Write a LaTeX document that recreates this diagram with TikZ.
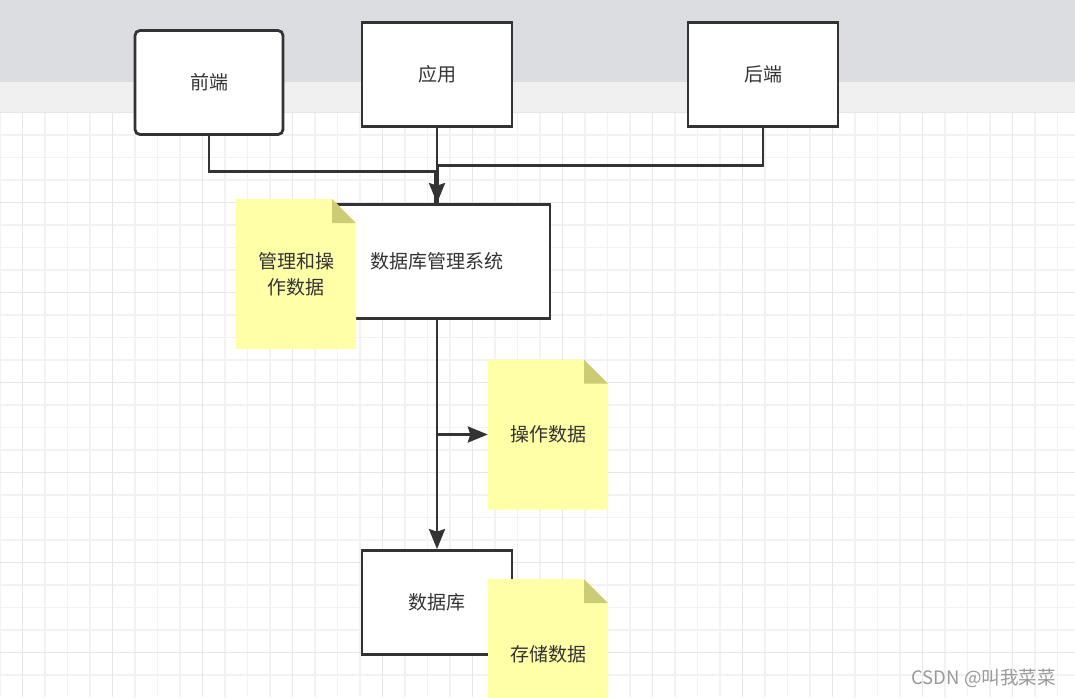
\documentclass[tikz,border=0pt]{standalone}
\usepackage{fontspec}
\setmainfont{Noto Sans CJK SC}
\usetikzlibrary{arrows.meta}
\definecolor{ink}{HTML}{333333}
\definecolor{notefill}{HTML}{FFFFA8}
\definecolor{notefold}{HTML}{CCCC77}
\definecolor{topband}{HTML}{DCDDE1}
\definecolor{midband}{HTML}{F0F0F0}
\definecolor{gridminor}{HTML}{F2F2F2}
\definecolor{gridmajor}{HTML}{E6E6E6}
\tikzset{
  box/.style={draw=ink, line width=2.8pt, fill=white, minimum width=150pt, minimum height=104pt,
    inner sep=0pt, text=ink, font=\fontsize{19}{26}\selectfont},
  note/.style={minimum width=120pt, minimum height=150pt, inner sep=0pt, align=center,
    text=ink, font=\fontsize{19}{26}\selectfont,
    path picture={
      \fill[notefill] (path picture bounding box.south west) -- (path picture bounding box.north west)
        -- ([xshift=-24pt]path picture bounding box.north east) -- ([yshift=-24pt]path picture bounding box.north east)
        -- (path picture bounding box.south east) -- cycle;
      \fill[notefold] ([xshift=-24pt]path picture bounding box.north east) -- ([xshift=-24pt,yshift=-24pt]path picture bounding box.north east)
        -- ([yshift=-24pt]path picture bounding box.north east) -- cycle;
    }},
  conn/.style={draw=ink, line width=2.8pt},
  arr/.style={conn, -{Stealth[length=20pt, width=16pt, inset=2.5pt]}}
}
\begin{document}
\begin{tikzpicture}[x=1pt, y=-1pt]
    \useasboundingbox (0,0) rectangle (1075,697);
    \fill[topband] (0,0) rectangle (1075,82);
    \fill[midband] (0,82) rectangle (1075,112.5);
    \fill[white] (0,112.5) rectangle (1075,697);
    \foreach \i in {0,...,47} \draw[gridminor, line width=1.2pt] (\i*22.5,112.5) -- (\i*22.5,697);
    \foreach \i in {0,...,25} \draw[gridminor, line width=1.2pt] (0,112.5+\i*22.5) -- (1075,112.5+\i*22.5);
    \foreach \i in {0,...,11} \draw[gridmajor, line width=1.2pt] (22.5+\i*90,112.5) -- (22.5+\i*90,697);
    \foreach \i in {0,...,6} \draw[gridmajor, line width=1.2pt] (0,112.5+\i*90) -- (1075,112.5+\i*90);

    \node[box, rounded corners=5pt, minimum width=148pt] (fe) at (209,82.5) {前端};
    \node[box] (app) at (437,74.3) {应用};
    \node[box] (be) at (763,74.3) {后端};
    \node[box, minimum width=226pt, minimum height=114pt] (dbms) at (437,261.5) {数据库管理系统};
    \node[box] (db) at (437,602.5) {数据库};

    \draw[conn] (fe.south) -- ++(0,35.5) -| ([xshift=-1.5pt]dbms.north);
    \draw[conn] (be.south) -- ++(0,37.5) -| ([xshift=1pt]dbms.north);
    \draw[arr] (app.south) -- (dbms.north);
    \draw[arr] (dbms.south) -- (db.north);

    \node[note] (n1) at (296,274) {管理和操\\作数据};
    \node[note] (n2) at (548,434.5) {操作数据};
    \node[note] (n3) at (548,654) {存储数据};
    \draw[arr] (dbms.south |- n2.west) -- (n2.west);

    \node[text=gray!80, font=\fontsize{18.5}{22}\selectfont] (mark) at (983.5,678) {CSDN @叫我菜菜};
\end{tikzpicture}
\end{document}
